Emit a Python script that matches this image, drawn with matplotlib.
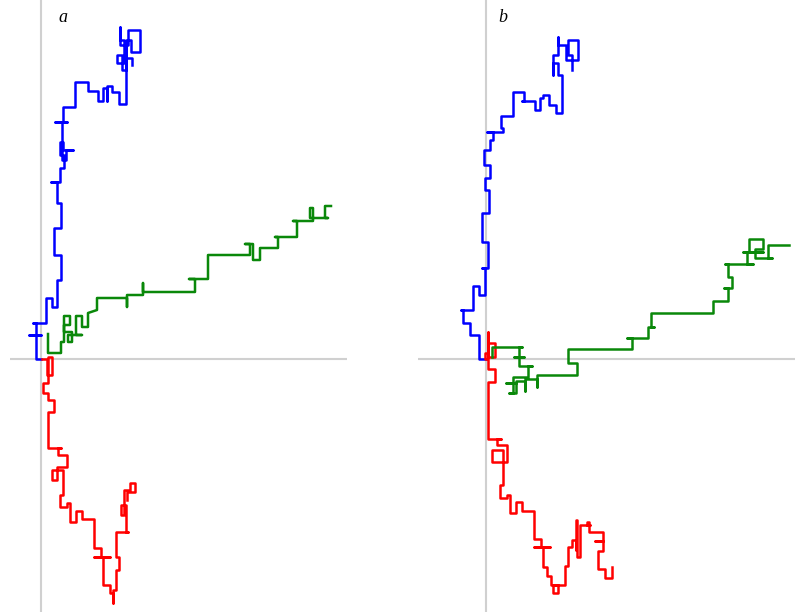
import matplotlib.pyplot as plt

# lattice random walks, vertices in lattice units (origin = start of walk)
# panel a
blue_a_x = [0, -5, -5, -12, 0, -5, -5, -8, 5, 5, 11, 11, 16, 16, 20, 20, 13, 13, 20, 20, 16, 16, 10, 19,
            19, 23, 23, 19, 19, 22, 22, 32, 25, 25, 21, 21, 14, 26, 22, 22, 34, 34, 47, 47, 57, 57, 62, 62,
            66, 66, 66, 71, 71, 78, 78, 85, 85, 85, 81, 81, 76, 76, 83, 83, 79, 79, 79, 87, 87, 99, 99, 90,
            90, 85, 85, 91, 91]
blue_a_y = [0, 0, 24, 24, 24, 24, 36, 36, 36, 61, 61, 52, 52, 79, 79, 104, 104, 131, 131, 156, 156, 177, 177, 177,
            191, 191, 204, 204, 217, 217, 209, 209, 209, 199, 199, 237, 237, 237, 237, 252, 252, 277, 277, 268, 268, 258, 258, 271,
            271, 258, 273, 273, 267, 267, 255, 255, 311, 289, 289, 304, 304, 296, 296, 319, 319, 332, 314, 314, 329, 329, 307, 307,
            319, 319, 301, 301, 294]

green_a_x = [7, 7, 20, 20, 23, 23, 29, 29, 23, 23, 31, 31, 27, 27, 41, 35, 35, 41, 41, 47, 47, 47, 56, 56,
             86, 86, 86, 102, 102, 102, 154, 154, 148, 167, 167, 209, 209, 204, 212, 212, 219, 219, 237, 237, 234, 256,
             256, 252, 272, 272, 269, 269, 287, 284, 284, 290]
green_a_y = [25, 6, 6, 17, 17, 43, 43, 34, 34, 27, 27, 17, 17, 24, 24, 24, 43, 43, 32, 32, 37, 46, 49, 61,
             61, 52, 64, 64, 76, 67, 67, 80, 80, 80, 104, 104, 115, 115, 115, 99, 99, 111, 111, 122, 122, 122,
             138, 138, 138, 151, 151, 141, 141, 141, 153, 153]

red_a_x = [1, 6, 6, 11, 11, 7, 7, 2, 2, 7, 7, 13, 13, 7, 7, 20, 17, 17, 26, 26, 16, 16, 11, 11, 22, 22, 19, 19,
           26, 26, 29, 29, 35, 35, 41, 41, 53, 53, 60, 60, 53, 69, 62, 62, 69, 69, 72, 72, 72, 75, 75, 78, 78,
           75, 75, 87, 85, 85, 80, 80, 83, 83, 89, 89, 94, 94, 86, 86]
red_a_y = [0, 0, -16, -16, 2, 2, -24, -24, -34, -34, -41, -41, -53, -53, -89, -89, -89, -96, -96, -108, -108, -121,
           -121, -111, -111, -136, -136, -148, -148, -144, -144, -163, -163, -152, -152, -160, -160, -189, -189, -198,
           -198, -198, -198, -226, -226, -234, -234, -244, -231, -231, -211, -211, -198, -198, -173, -173, -173, -146,
           -146, -156, -156, -131, -131, -124, -124, -133, -133, -141]

# panel b
blue_b_x = [0, -7, -7, -16, -16, -23, -23, -25, -13, -13, -7, -7, -1, -1, -4, 2, 2, -4, -4, 3, 3, -1, -1, 4,
            4, -2, -2, 4, 4, 7, 7, 1, 17, 17, 15, 15, 27, 27, 38, 38, 36, 49, 49, 54, 54, 57, 57, 63, 63, 70,
            70, 76, 76, 72, 72, 67, 67, 67, 72, 72, 72, 80, 80, 92, 92, 82, 82, 86, 86]
blue_b_y = [0, 0, 24, 24, 36, 36, 49, 49, 49, 73, 73, 64, 64, 91, 91, 91, 117, 117, 146, 146, 169, 169, 181, 181,
            194, 194, 209, 209, 219, 219, 227, 227, 227, 231, 231, 243, 243, 267, 267, 258, 258, 258, 249, 249, 261,
            261, 264, 264, 254, 254, 246, 246, 284, 284, 296, 296, 284, 304, 304, 322, 314, 314, 299, 299, 319, 319,
            304, 304, 289]

green_b_x = [6, 6, 36, 33, 33, 28, 38, 33, 33, 46, 42, 42, 27, 27, 23, 30, 30, 20, 30, 30, 39, 39, 39, 51, 51,
             51, 91, 91, 82, 82, 146, 146, 141, 162, 162, 168, 165, 165, 227, 227, 242, 242, 238, 246, 246, 242,
             242, 239, 267, 261, 261, 257, 277, 263, 263, 277, 277, 269, 269, 286, 282, 282, 303]
green_b_y = [2, 12, 12, 12, 2, 2, 2, 2, -7, -7, -7, -18, -18, -34, -34, -34, -24, -24, -24, -22, -22, -32, -20, -20,
             -28, -16, -16, -4, -4, 10, 10, 21, 21, 21, 32, 32, 32, 46, 46, 58, 58, 71, 71, 71, 82, 82, 95, 95, 95,
             95, 107, 107, 107, 107, 120, 120, 110, 110, 101, 101, 101, 114, 114]

red_b_x = [0, -1, -1, 2, 2, 9, 9, 2, 2, 2, 9, 9, 2, 2, 15, 11, 11, 21, 21, 6, 6, 17, 17, 14, 14, 21, 21, 24,
           24, 30, 30, 36, 36, 48, 48, 55, 55, 48, 64, 57, 57, 61, 61, 65, 65, 72, 72, 67, 67, 73, 79, 79, 82,
           82, 86, 86, 90, 90, 90, 91, 91, 94, 94, 104, 101, 101, 103, 103, 117, 117, 109, 117, 117, 112, 112,
           119, 119, 126, 126]
red_b_y = [0, 0, 6, 6, 16, 16, 2, 2, 27, -10, -10, -23, -23, -80, -80, -80, -86, -86, -103, -103, -91, -91, -126,
           -126, -139, -139, -136, -136, -154, -154, -143, -143, -152, -152, -180, -180, -188, -188, -188, -188, -208,
           -208, -217, -217, -226, -226, -234, -234, -226, -226, -226, -207, -207, -188, -188, -181, -181, -191, -161,
           -161, -198, -198, -166, -166, -166, -163, -163, -173, -173, -182, -182, -182, -192, -192, -210, -210, -219,
           -219, -208]

panels = [
    ("a", [10, 347], (blue_a_x, blue_a_y), (red_a_x, red_a_y), (green_a_x, green_a_y), 31, 22),
    ("b", [418, 795], (blue_b_x, blue_b_y), (red_b_x, red_b_y), (green_b_x, green_b_y), 68, 17),
]

W, H = 795, 612
fig = plt.figure(figsize=(W / 100, H / 100), dpi=100)

for name, (x0, x1), blue, red, green, left, lab_x in panels:
    ax = fig.add_axes([x0 / W, 0, (x1 - x0) / W, 1])
    # 1 lattice unit = 1 pixel
    ax.set_xlim(-left, x1 - x0 - left)
    ax.set_ylim(359 - H, 359)
    ax.axis('off')
    ax.axhline(0, color='#d0d0d0', lw=1.5, zorder=1)
    ax.axvline(0, color='#d0d0d0', lw=1.5, zorder=1)
    ax.plot(blue[0], blue[1], color='#0000ff', lw=1.8, zorder=2)
    ax.plot(red[0], red[1], color='#ff0000', lw=1.8, zorder=3)
    ax.plot(green[0], green[1], color='#0a880a', lw=1.8, zorder=4)
    ax.text(lab_x, 341, name, fontsize=13, style='italic', family='Liberation Serif',
            ha='center', va='center')

fig.savefig('out.png', dpi=100)
